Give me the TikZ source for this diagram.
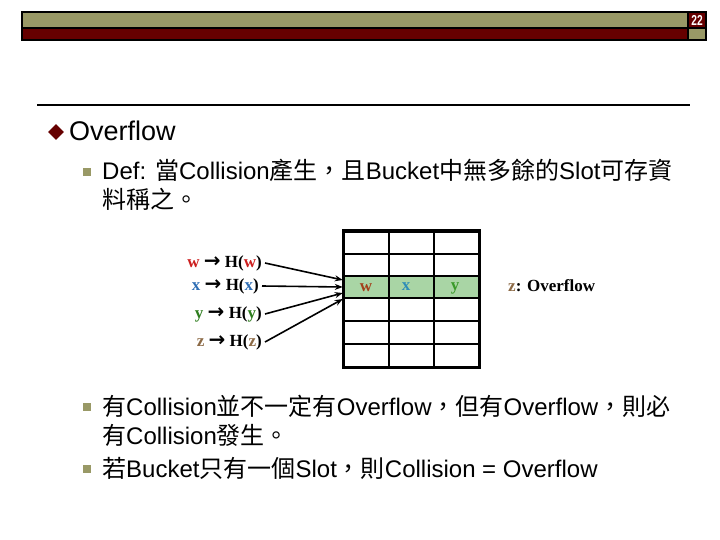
\documentclass[tikz,border=0pt]{standalone}
\usepackage{fontspec}
\setmainfont{Liberation Sans}
\newfontfamily\cjk{Noto Sans CJK TC}
\newfontfamily\serifb{Liberation Serif}
\newfontfamily\symb{DejaVu Sans}
\usepackage{tikz}
\usetikzlibrary{arrows.meta,positioning,calc,shapes.geometric}
\definecolor{olive}{HTML}{999966}
\definecolor{bordeaux}{HTML}{660000}
\definecolor{vertclair}{HTML}{A9D5A5}
\definecolor{rougew}{HTML}{CC1F1F}
\definecolor{bleux}{HTML}{2E6DB4}
\definecolor{verty}{HTML}{2E7D1E}
\definecolor{brunz}{HTML}{8C6A46}
\definecolor{brunw}{HTML}{A3411B}
\definecolor{bleut}{HTML}{2E8DB8}
\definecolor{vertt}{HTML}{3A9A2A}
\newcommand{\zh}[1]{{\cjk #1}}
\newcommand{\fl}{{\symb\bfseries\fontsize{20}{17}\selectfont →}}
\tikzset{
  texte/.style={anchor=base west,inner sep=0pt,font=\fontsize{24}{28}\selectfont},
  puce/.style={fill=olive,minimum size=8.5pt,inner sep=0pt},
  hach/.style={anchor=east,inner sep=3pt,font=\serifb\bfseries\fontsize{17}{17}\selectfont},
  fleche/.style={-{Stealth[length=8pt,width=6pt]},line width=1.6pt},
}

\begin{document}
\begin{tikzpicture}[x=1pt,y=-1pt,
  case/.style={font=\serifb\bfseries\fontsize{17}{17}\selectfont,inner sep=0pt}]
  \useasboundingbox (0,0) rectangle (720,540);
  % bandeau du haut
  \draw[line width=1.5pt,fill=olive] (22,12) rectangle (688,28);
  \draw[line width=1.5pt,fill=bordeaux] (22,28) rectangle (688,40);
  \draw[line width=1.5pt,fill=bordeaux] (688,12) rectangle (706,28);
  \draw[line width=1.5pt,fill=olive] (688,28) rectangle (706,40);
  \node[text=white,font=\bfseries\fontsize{12}{12}\selectfont,inner sep=0pt,yscale=1.2,xscale=0.85] (num) at (697,20) {22};
  \draw[line width=2pt] (37,105) -- (690,105);
  % titre
  \node[diamond,fill=bordeaux,minimum size=16pt,inner sep=0pt] (d0) at (56,132) {};
  \node[texte,font=\fontsize{27}{30}\selectfont] (titre) at (69,141) {Overflow};
  \node[puce] (p1) at (87,172) {};
  \node[texte] (def1) at (102,180) {Def: \zh{當}Collision\zh{產生，且}Bucket\zh{中無多餘的}Slot\zh{可存資}};
  \node[texte] (def2) at (102,208) {\zh{料稱之。}};
  % fonction de hachage
  \node[hach] (hw) at (265,263) {\textcolor{rougew}{w} \fl{} H(\textcolor{rougew}{w})};
  \node[hach] (hx) at (262,286) {\textcolor{bleux}{x} \fl{} H(\textcolor{bleux}{x})};
  \node[hach] (hy) at (265,314) {\textcolor{verty}{y} \fl{} H(\textcolor{verty}{y})};
  \node[hach] (hz) at (265,342) {\textcolor{brunz}{z} \fl{} H(\textcolor{brunz}{z})};
  % table
  \node[fill=vertclair,minimum width=136pt,minimum height=22pt,inner sep=0pt] (rang) at (411,287) {};
  \foreach \y in {254,276,298,321,344}
    \draw[line width=2pt] (343,\y) -- (479,\y);
  \foreach \x in {389,434}
    \draw[line width=2pt] (\x,231) -- (\x,367);
  \draw[line width=3pt] (343,231) rectangle (479,367);
  \node[case,text=brunw] (cw) at (366,288) {w};
  \node[case,text=bleut] (cx) at (406,287) {x};
  \node[case,text=vertt] (cy) at (455,288) {y};
  \node[case,anchor=west] (ov) at (508,286) {\textcolor{brunz}{z}: Overflow};
  \coordinate (tw) at ([yshift=7pt]rang.west);
  \coordinate (tx) at (rang.west);
  \coordinate (ty) at ([yshift=-6pt]rang.west);
  \coordinate (tz) at ([yshift=-12pt]rang.west);
  \draw[fleche] (hw.east) -- (tw);
  \draw[fleche] (hx.east) -- (tx);
  \draw[fleche] (hy.east) -- (ty);
  \draw[fleche] (hz.east) -- (tz);
  % remarques
  \node[puce] (p2) at (87,407) {};
  \node[texte] (r1) at (102,415) {\zh{有}Collision\zh{並不一定有}Overflow\zh{，但有}Overflow\zh{，則必}};
  \node[texte] (r2) at (102,444) {\zh{有}Collision\zh{發生。}};
  \node[puce] (p3) at (87,469) {};
  \node[texte] (r3) at (102,477) {\zh{若}Bucket\zh{只有一個}Slot\zh{，則}Collision = Overflow};
\end{tikzpicture}
\end{document}
